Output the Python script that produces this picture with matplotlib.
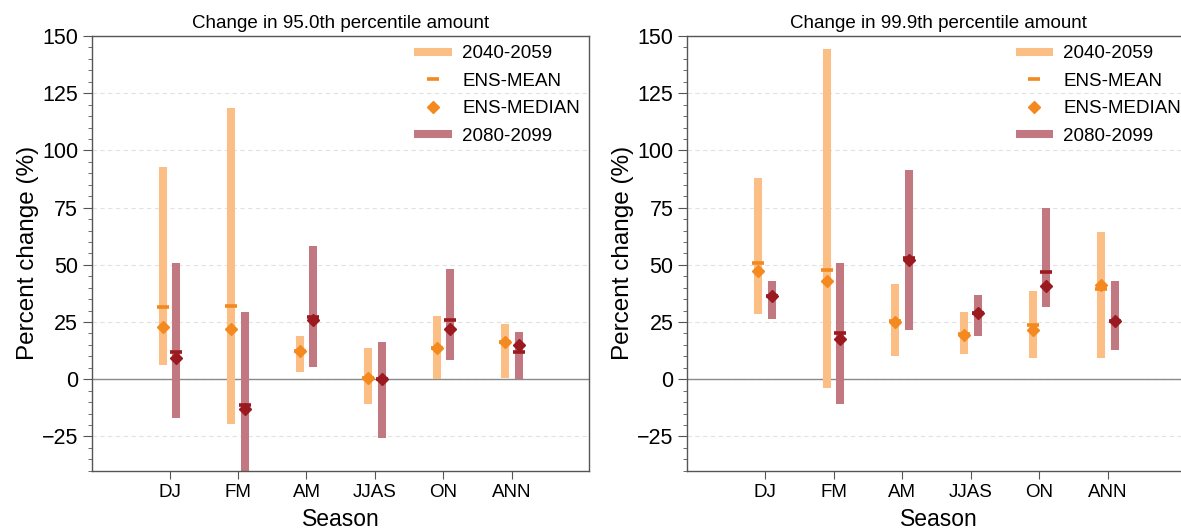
import matplotlib.pyplot as plt
import numpy as np

plt.rcParams['font.family'] = ['Liberation Sans', 'DejaVu Sans']

seasons = ['DJ', 'FM', 'AM', 'JJAS', 'ON', 'ANN']
titles = ['Change in 95.0th percentile amount', 'Change in 99.9th percentile amount']

# 95.0th percentile, 2040-2059
p95_lo_40 = [6.1, -19.7, 3.2, -10.9, 0.0, 0.4]
p95_hi_40 = [92.8, 118.4, 18.9, 13.8, 27.8, 24.0]
p95_mean_40 = [31.6, 31.9, 12.2, 0.4, 13.8, 16.3]
p95_med_40 = [22.9, 22.1, 12.2, 0.7, 13.8, 16.5]
# 95.0th percentile, 2080-2099
p95_lo_80 = [-17.0, -48.0, 5.2, -25.6, 8.4, 0.0]
p95_hi_80 = [50.7, 29.3, 58.1, 16.5, 48.2, 20.8]
p95_mean_80 = [11.7, -11.1, 27.4, 0.0, 26.1, 11.9]
p95_med_80 = [9.2, -13.1, 25.9, 0.0, 21.9, 15.0]

# 99.9th percentile, 2040-2059
p999_lo_40 = [28.7, -3.6, 10.2, 11.1, 9.2, 9.3]
p999_hi_40 = [88.1, 144.2, 41.7, 29.4, 38.5, 64.5]
p999_mean_40 = [50.7, 47.8, 25.5, 19.7, 23.9, 39.6]
p999_med_40 = [47.5, 43.1, 25.2, 19.4, 21.6, 41.1]
# 99.9th percentile, 2080-2099
p999_lo_80 = [26.4, -10.6, 21.7, 19.1, 31.5, 12.8]
p999_hi_80 = [42.8, 50.7, 91.5, 36.7, 74.9, 43.0]
p999_mean_80 = [36.6, 20.3, 53.0, 29.1, 46.8, 25.5]
p999_med_80 = [36.6, 17.5, 52.2, 29.1, 40.9, 25.5]

panels = [
    (p95_lo_40, p95_hi_40, p95_mean_40, p95_med_40,
     p95_lo_80, p95_hi_80, p95_mean_80, p95_med_80),
    (p999_lo_40, p999_hi_40, p999_mean_40, p999_med_40,
     p999_lo_80, p999_hi_80, p999_mean_80, p999_med_80),
]

bar40 = '#fbbf86'
bar80 = '#c17880'
dot40 = '#f3891f'
dot80 = '#9a1a20'

fig = plt.figure(figsize=(11.81, 5.29), dpi=100)
ax_pos = [[0.078, 0.11, 0.421, 0.822], [0.582, 0.11, 0.426, 0.822]]

x = np.arange(len(seasons))
off = 0.1
for k in range(2):
    ax = fig.add_axes(ax_pos[k])
    lo40, hi40, mn40, md40, lo80, hi80, mn80, md80 = panels[k]

    ax.yaxis.grid(True, ls=(0, (4, 3)), color='#e2e2e2', lw=0.8)
    ax.set_axisbelow(True)
    ax.axhline(0, color='#8a8a8a', lw=1.0, zorder=1)

    ax.vlines(x - off, lo40, hi40, color=bar40, lw=5.8, label='2040-2059', zorder=2)
    ax.vlines(x + off, lo80, hi80, color=bar80, lw=5.8, label='2080-2099', zorder=2)
    ax.plot(x - off, md40, ls='none', marker='D', ms=6.5, color=dot40, mec=dot40,
            label='ENS-MEDIAN', zorder=3)
    ax.plot(x + off, md80, ls='none', marker='D', ms=6.5, color=dot80, mec=dot80, zorder=3)
    ax.plot(x - off, mn40, ls='none', marker='_', ms=9, mew=2.6, color=dot40,
            label='ENS-MEAN', zorder=4)
    ax.plot(x + off, mn80, ls='none', marker='_', ms=9, mew=2.6, color=dot80, zorder=4)

    ax.set_xlim(-1.13, 6.13 if k == 0 else 6.2)
    ax.set_ylim(-40, 150)
    ax.set_xticks(x)
    ax.set_xticklabels(seasons, fontsize=13.5)
    ax.set_yticks(np.arange(-25, 151, 25))
    ax.set_yticks(np.arange(-40, 151, 5), minor=True)
    ax.tick_params(axis='y', which='major', labelsize=15.5, length=6.5, color='#555555')
    ax.tick_params(axis='y', which='minor', length=3, color='#555555')
    ax.tick_params(axis='x', length=6, color='#555555')
    for s in ax.spines.values():
        s.set_color('#555555')
        s.set_linewidth(1.0)

    ax.set_title(titles[k], fontsize=13.5, pad=6)
    ax.set_xlabel('Season', fontsize=16.5, labelpad=5)
    ax.set_ylabel('Percent change (%)', fontsize=17.5, labelpad=2)

    h, l = ax.get_legend_handles_labels()
    order = [l.index(n) for n in ['2040-2059', 'ENS-MEAN', 'ENS-MEDIAN', '2080-2099']]
    ax.legend([h[i] for i in order], [l[i] for i in order], loc='upper right',
              frameon=False, fontsize=13.5, numpoints=1, handlelength=2.0,
              handletextpad=0.55, borderaxespad=0.1, labelspacing=0.55)

fig.savefig('out.png', dpi=100)
